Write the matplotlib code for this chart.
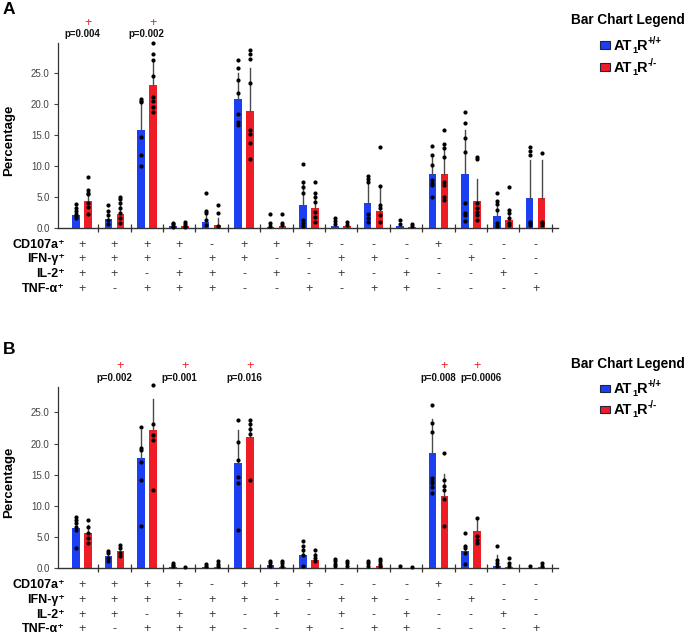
import matplotlib
matplotlib.use("Agg")
import matplotlib.pyplot as plt
import matplotlib.transforms as mtransforms
from matplotlib.patches import Rectangle
import numpy as np

plt.rcParams['font.family'] = ['Liberation Sans', 'DejaVu Sans']

# ---------------- data ----------------
row_labels = ['CD107a⁺', 'IFN-γ⁺', 'IL-2⁺', 'TNF-α⁺']
row_cd107a = ['+', '+', '+', '+', '-', '+', '+', '+', '-', '-', '-', '+', '-', '-', '-']
row_ifng   = ['+', '+', '+', '-', '+', '+', '-', '-', '+', '+', '-', '-', '+', '-', '-']
row_il2    = ['+', '+', '-', '+', '+', '-', '+', '-', '+', '-', '+', '-', '-', '+', '-']
row_tnfa   = ['+', '-', '+', '+', '+', '-', '-', '+', '-', '+', '+', '-', '-', '-', '+']

legend_title = 'Bar Chart Legend'
legend_labels = [('AT', '1', 'R', '+/+'), ('AT', '1', 'R', '-/-')]

# Panel A
A_wt = [2.05, 1.3, 15.7, 0.2, 0.9, 20.7, 0.15, 3.7, 0.2, 4.0, 0.2, 8.7, 8.6, 1.8, 4.7]
A_ko = [4.25, 2.2, 23.1, 0.3, 0.4, 18.8, 0.3, 3.1, 0.2, 2.6, 0.1, 8.6, 4.3, 1.2, 4.7]
A_wt_sd = [1.55, 1.2, 5.1, 0.3, 1.9, 4.3, 0.5, 3.4, 0.6, 4.2, 0.4, 3.0, 7.2, 2.5, 6.2]
A_ko_sd = [1.75, 2.2, 3.9, 0.4, 1.1, 7.0, 0.5, 2.5, 0.3, 4.1, 0.3, 4.9, 3.5, 1.8, 6.2]
A_wt_pts = [[3.8, 3.1, 2.6, 1.9, 1.6, 2.2], [3.6, 2.6, 2.0, 1.2, 0.5],
            [20.8, 20.5, 20.3, 14.6, 11.7, 9.9], [0.7, 0.5, 0.3, 0.1],
            [5.6, 2.6, 2.3, 1.2, 0.4], [27.0, 25.8, 23.8, 21.7, 18.4, 17.0, 16.5],
            [2.15, 0.75, 0.3], [10.3, 7.3, 6.6, 5.5, 1.2, 0.75, 0.3],
            [1.6, 1.1, 0.6], [8.3, 7.9, 7.4, 2.15, 1.6, 0.9], [1.2, 0.6],
            [13.1, 11.7, 10.1, 7.6, 7.2, 6.8, 5.0], [18.7, 16.9, 14.4, 12.2, 3.9, 2.4, 2.0, 1.0],
            [5.5, 4.3, 3.8, 2.8, 0.75, 0.3], [13.0, 12.3, 11.7, 0.9, 0.65, 0.4]]
A_ko_pts = [[8.1, 6.0, 5.6, 5.4, 3.9, 3.3, 2.2], [4.9, 4.6, 3.9, 3.1, 2.3, 1.5, 0.75],
            [29.8, 28.1, 27.0, 24.4, 21.1, 20.5, 19.5, 18.7], [0.9, 0.6, 0.3, 0.1],
            [3.7, 2.3, 0.3], [28.7, 28.0, 27.3, 23.4, 15.7, 15.1, 13.7, 11.0],
            [2.15, 0.8, 0.4], [7.4, 5.6, 4.9, 4.1, 2.5, 1.7, 0.9],
            [0.85, 0.4], [13.0, 6.7, 3.6, 3.1, 2.0, 0.9], [0.6, 0.3],
            [15.7, 13.5, 12.8, 11.4, 7.4, 6.8, 4.9, 4.4], [11.4, 11.0, 3.9, 3.1, 2.5, 2.0, 1.2],
            [6.5, 2.8, 2.3, 1.6, 0.8, 0.4], [12.0, 0.9, 0.65, 0.4]]
A_sig_groups = [0, 2]
A_sig_labels = ['p=0.004', 'p=0.002']

# Panel B
B_wt = [6.4, 2.0, 17.6, 0.2, 0.15, 16.8, 0.45, 2.2, 0.1, 0.1, 0.05, 18.4, 2.8, 0.4, 0.05]
B_ko = [5.7, 2.7, 22.1, 0.1, 0.2, 21.0, 0.15, 1.35, 0.1, 0.3, 0.05, 11.6, 5.9, 0.2, 0.2]
B_wt_sd = [1.8, 0.9, 4.5, 0.4, 0.3, 5.3, 0.5, 1.4, 0.7, 0.6, 0.1, 5.6, 0.9, 1.7, 0.1]
B_ko_sd = [1.2, 0.8, 5.0, 0.1, 0.5, 2.7, 0.6, 1.05, 0.6, 0.7, 0.1, 3.5, 2.1, 0.7, 0.4]
B_wt_pts = [[8.3, 7.7, 7.2, 6.6, 6.1, 3.3], [2.8, 2.4, 1.7, 1.1],
            [22.7, 19.2, 18.9, 17.0, 14.1, 6.8], [0.9, 0.6, 0.3], [0.7, 0.35],
            [23.7, 20.2, 17.3, 14.6, 13.6, 6.1], [1.2, 0.8, 0.35], [4.3, 3.6, 2.9, 2.2, 0.3],
            [1.5, 1.1, 0.7, 0.35], [1.2, 0.8, 0.35], [0.3],
            [26.1, 23.3, 21.8, 14.4, 14.0, 13.6, 13.1, 12.1], [5.7, 3.6, 3.2, 2.5, 0.7],
            [3.6, 1.3, 0.8, 0.4], [0.3]]
B_ko_pts = [[7.8, 6.6, 5.6, 4.8, 4.1], [3.8, 3.2, 2.4, 1.9],
            [29.3, 23.1, 21.3, 20.5, 12.5], [0.15], [1.1, 0.7, 0.35],
            [23.7, 23.1, 22.3, 21.5, 14.1], [1.2, 0.8, 0.35], [2.9, 2.1, 1.6, 1.1],
            [1.2, 0.8, 0.35], [1.5, 1.1, 0.7, 0.35], [0.2],
            [18.4, 14.1, 13.2, 12.6, 11.1, 6.7], [8.0, 5.1, 4.5, 4.0],
            [1.7, 0.8, 0.4], [0.8, 0.4]]
B_sig_groups = [1, 3, 5, 11, 12]
B_sig_labels = ['p=0.002', 'p=0.001', 'p=0.016', 'p=0.008', 'p=0.0006']

# ---------------- style ----------------
BLUE = '#1d3ff2'
RED = '#ee1d25'
W, H = 685, 634
fig = plt.figure(figsize=(W / 100, H / 100), dpi=100)
renderer = fig.canvas.get_renderer()

def fx(x):
    return x / W

def fy(y):
    return 1 - y / H

ngroups = len(A_wt)
off = 0.185
bw = 0.235
xlim = (-0.74, 14.69)


def compound_label(x_px, y_px, parts):
    """parts: (text, fontsize, dy_px)"""
    cur = x_px
    for txt, fs, dy in parts:
        t = fig.text(fx(cur), fy(y_px + dy), txt, ha='left', va='baseline',
                     fontsize=fs, fontweight='bold')
        bb = t.get_window_extent(renderer=renderer)
        cur += bb.width


def draw_panel(zero_px, top_val, px_per_unit, wt, ko, wt_sd, ko_sd, wt_pts, ko_pts,
               sig_groups, sig_labels, plus_y, p_y, rows_y, panel_letter, letter_y,
               leg_title_y, leg_y):
    height_px = top_val * px_per_unit
    ax = fig.add_axes([fx(58), fy(zero_px), fx(558) - fx(58), height_px / H])
    x = np.arange(ngroups)
    ax.bar(x - off, wt, width=bw, color=BLUE, zorder=2)
    ax.bar(x + off, ko, width=bw, color=RED, zorder=2)
    for i in range(ngroups):
        ax.plot([x[i] - off] * 2, [wt[i], wt[i] + wt_sd[i]], color='#4a4a4a', lw=1.0, zorder=3)
        ax.plot([x[i] + off] * 2, [ko[i], ko[i] + ko_sd[i]], color='#4a4a4a', lw=1.0, zorder=3)
        ax.scatter([x[i] - off] * len(wt_pts[i]), wt_pts[i], s=9, color='black', zorder=4,
                   linewidths=0, clip_on=False)
        ax.scatter([x[i] + off] * len(ko_pts[i]), ko_pts[i], s=9, color='black', zorder=4,
                   linewidths=0, clip_on=False)
    ax.set_xlim(*xlim)
    ax.set_ylim(0, top_val)
    ax.set_yticks([0, 5, 10, 15, 20, 25])
    ax.set_yticklabels(['0.0', '5.0', '10.0', '15.0', '20.0', '25.0'])
    ax.tick_params(axis='y', length=3, width=0.8, colors='#444444', labelsize=7, pad=3)
    ax.set_xticks(np.arange(ngroups) + 0.5)
    ax.tick_params(axis='x', direction='inout', length=6, width=0.9, color='#333333', labelbottom=False)
    for s in ['top', 'right']:
        ax.spines[s].set_visible(False)
    ax.spines['left'].set_color('#333333')
    ax.spines['bottom'].set_color('#333333')
    ax.spines['left'].set_linewidth(0.9)
    ax.spines['bottom'].set_linewidth(1.0)
    fig.text(fx(9), fy(zero_px - height_px / 2 + 5), 'Percentage', rotation=90,
             ha='center', va='center', fontsize=9.5, fontweight='bold')

    blend = mtransforms.blended_transform_factory(ax.transData, fig.transFigure)
    for g, lab in zip(sig_groups, sig_labels):
        tx = g + (0.32 if lab == 'p=0.0006' else 0.0)
        fig.text(tx, fy(p_y), lab, transform=blend, ha='center', va='center',
                 fontsize=7, fontweight='bold', color='#111111')
        fig.text(g + off, fy(plus_y), '+', transform=blend, ha='center', va='center',
                 fontsize=9, color=RED)

    rows = [row_cd107a, row_ifng, row_il2, row_tnfa]
    for r, (lab, row) in enumerate(zip(row_labels, rows)):
        y = fy(rows_y[r])
        fig.text(fx(65), y, lab, ha='right', va='center', fontsize=9, fontweight='bold')
        for i, sym in enumerate(row):
            fig.text(i, y, sym, transform=blend, ha='center', va='center',
                     fontsize=9, color='#3a3a3a')

    fig.text(fx(3), fy(letter_y), panel_letter, ha='left', va='center', fontsize=12.5, fontweight='bold')

    fig.text(fx(571), fy(leg_title_y), legend_title, ha='left', va='center', fontsize=9.8, fontweight='bold')
    for c, parts, ly in zip([BLUE, RED], legend_labels, leg_y):
        fig.patches.append(Rectangle((fx(600), fy(ly + 3.5)), fx(10), 7 / H, transform=fig.transFigure,
                                     facecolor=c, edgecolor='#222244', lw=0.8))
        a, sub, r_, sup = parts
        compound_label(614, ly + 5, [(a, 10.5, 0), (sub, 6.5, 3), (r_, 10.5, 0), (sup, 7, -6)])
    return ax

draw_panel(227.5, 29.8, 6.19, A_wt, A_ko, A_wt_sd, A_ko_sd, A_wt_pts, A_ko_pts,
           A_sig_groups, A_sig_labels, 23, 34, [245, 259, 274, 289], 'A', 9,
           20, [45, 67])
draw_panel(568.3, 29.1, 6.24, B_wt, B_ko, B_wt_sd, B_ko_sd, B_wt_pts, B_ko_pts,
           B_sig_groups, B_sig_labels, 366, 378, [585, 600, 615, 629], 'B', 349,
           364, [388, 409])

fig.savefig('out.png', dpi=100)
